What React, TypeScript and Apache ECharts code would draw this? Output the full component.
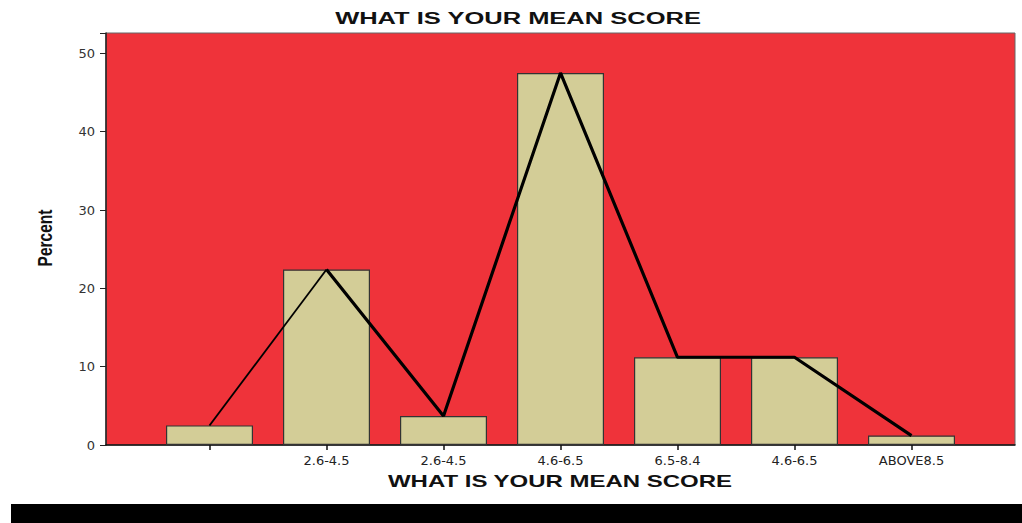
import React, { useEffect, useRef } from "react";
import * as echarts from "echarts";

const categories = ["", "2.6-4.5", "2.6-4.5", "4.6-6.5", "6.5-8.4", "4.6-6.5", "ABOVE8.5"];
const percents = [2.5, 22.4, 3.7, 47.5, 11.2, 11.2, 1.2];
const thinLine = [2.5, 22.4, null, null, null, null, null];
const thickLine = [null, 22.4, 3.7, 47.5, 11.2, 11.2, 1.2];
const yTicks = [0, 10, 20, 30, 40, 50];
const titleText = "WHAT IS YOUR MEAN SCORE";
const yName = "Percent";

export default function App() {
  const ref = useRef<HTMLDivElement>(null);
  useEffect(() => {
    document.body.style.margin = "0";
    const chart = echarts.init(ref.current!, null, { renderer: "svg" });
    const yMax = 52.6;
    chart.setOption({
      animation: false,
      backgroundColor: "#ffffff",
      grid: [
        { left: 106, top: 33, width: 909, height: 412, show: true, backgroundColor: "#EF333A", borderColor: "#666", borderWidth: 1 },
        { left: 151, top: 33, width: 819, height: 412 },
      ],
      xAxis: [
        {
          gridIndex: 0, type: "value", min: 0, max: 1, position: "bottom",
          axisLine: { show: true, lineStyle: { color: "#111", width: 1.5 } },
          axisTick: { show: false }, axisLabel: { show: false }, splitLine: { show: false },
        },
        {
          gridIndex: 1, type: "category", data: categories, position: "bottom",
          axisLine: { show: false },
          axisTick: { show: true, alignWithLabel: true, length: 5, lineStyle: { color: "#111", width: 1.5 } },
          axisLabel: { color: "#222", fontSize: 13, fontFamily: "DejaVu Sans", margin: 9, interval: 0 },
        },
      ],
      yAxis: [
        {
          gridIndex: 0, type: "value", min: 0, max: yMax, interval: 10,
          axisLine: { show: true, lineStyle: { color: "#222", width: 1.5 } },
          axisTick: { show: true, length: 6, lineStyle: { color: "#222" } },
          axisLabel: {
            color: "#333", fontSize: 13, fontFamily: "DejaVu Sans", margin: 11,
            formatter: (v: number) => (yTicks.includes(v) ? String(v) : ""),
          },
          splitLine: { show: false },
        },
        { gridIndex: 1, type: "value", min: 0, max: yMax, show: false },
      ],
      series: [
        {
          type: "bar", xAxisIndex: 1, yAxisIndex: 1, data: percents, barWidth: 87,
          itemStyle: { color: "#D3CD97", borderColor: "#333", borderWidth: 1.2 },
          z: 2,
        },
        {
          type: "line", xAxisIndex: 1, yAxisIndex: 1, data: thinLine, symbol: "none",
          lineStyle: { color: "#000", width: 1.8 }, z: 3, connectNulls: false,
        },
        {
          type: "line", xAxisIndex: 1, yAxisIndex: 1, data: thickLine, symbol: "none",
          lineStyle: { color: "#000", width: 3.2 }, z: 3, connectNulls: false,
        },
      ],
      graphic: [
        {
          type: "text", x: 518, y: 18.5, scaleX: 1.5,
          style: { text: titleText, fontSize: 17, fontWeight: "bold", fontFamily: "Liberation Sans, Arial", fill: "#111", textAlign: "center", textVerticalAlign: "middle" },
        },
        {
          type: "text", x: 560, y: 482, scaleX: 1.5,
          style: { text: titleText, fontSize: 16, fontWeight: "bold", fontFamily: "Liberation Sans, Arial", fill: "#111", textAlign: "center", textVerticalAlign: "middle" },
        },
        {
          type: "text", x: 45, y: 238, rotation: Math.PI / 2, scaleY: 1.35,
          style: { text: yName, fontSize: 15.5, fontWeight: "bold", fontFamily: "Liberation Sans, Arial", fill: "#111", textAlign: "center", textVerticalAlign: "middle" },
        },
        {
          type: "rect", shape: { x: 11, y: 504, width: 1011, height: 19 },
          style: { fill: "#000" },
        },
      ],
    });
    return () => chart.dispose();
  }, []);
  return <div ref={ref} style={{ width: 1022, height: 523 }} />;
}
